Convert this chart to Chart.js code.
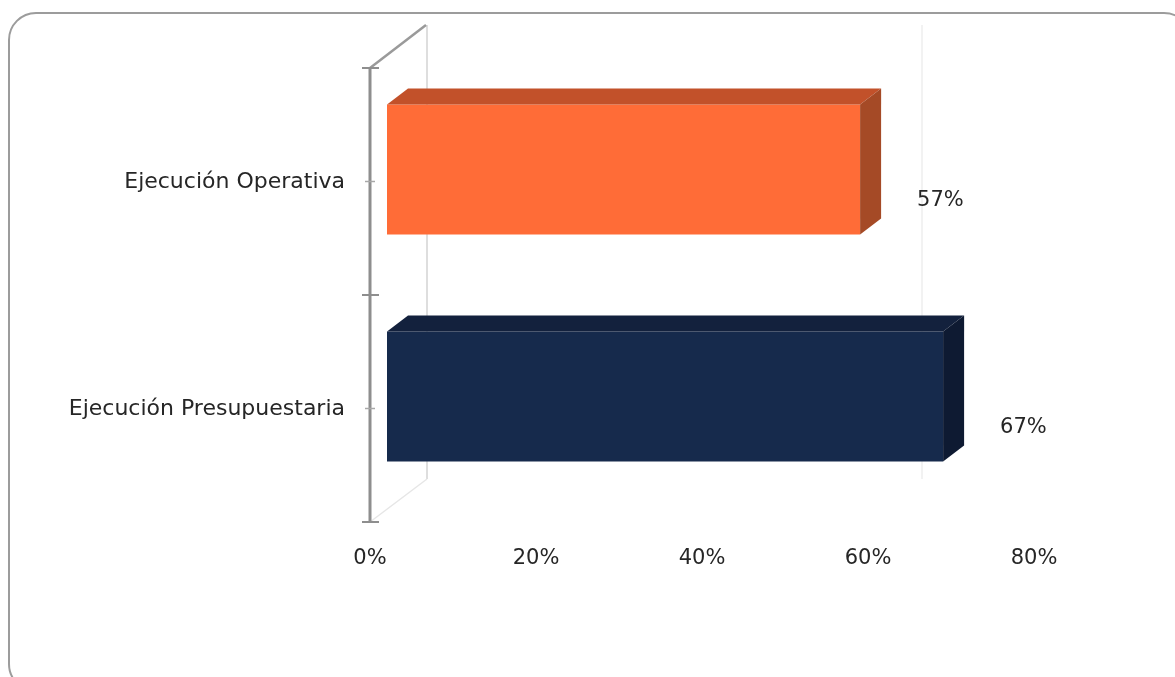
<!DOCTYPE html>
<html>
<head>
<meta charset="utf-8">
<script src="https://cdn.jsdelivr.net/npm/chart.js@4.4.0/dist/chart.umd.min.js"></script>
<style>
html, body { margin: 0; padding: 0; background: #fff; overflow: hidden; }
#wrap { position: relative; width: 1175px; height: 677px; }
#frame { position: absolute; left: 8px; top: 12px; width: 1184px; height: 680px; border: 2px solid #9c9c9c; border-radius: 28px; box-sizing: border-box; }
canvas { position: absolute; left: 0; top: 0; }
</style>
</head>
<body>
<div id="wrap">
  <div id="frame"></div>
  <canvas id="chart" width="1175" height="677"></canvas>
</div>
<script>
const categories = ['Ejecución Operativa', 'Ejecución Presupuestaria'];
const values = [0.57, 0.67];
const frontColors = ['#ff6c37', '#162a4c'];
const topColors = ['#c2512a', '#13213d'];
const sideColors = ['#a54a26', '#0e1a32'];
const gridValues = [0.6];

const FAMILY = '"DejaVu Sans", sans-serif';
const FONT = { family: FAMILY, size: 21 };
const CAT_FONT = { family: FAMILY, size: 22 };
const TEXT = '#262626';
const pct = v => Math.round(v * 100) + '%';

// fake 3D: depth of the bars and of the plot box
const barDx = 21, barDy = -16;
const boxDx = 57, boxDy = -43;
const frontShiftX = -17, frontShiftY = 12;

const walls = {
    id: 'walls',
    beforeDatasetsDraw(chart) {
        const ctx = chart.ctx, a = chart.chartArea;
        const xs = chart.scales.x;
        const L = a.left + frontShiftX, T = a.top + frontShiftY, B = a.bottom + frontShiftY;
        ctx.save();
        // back wall edge
        ctx.strokeStyle = '#dedede';
        ctx.lineWidth = 2;
        ctx.beginPath();
        ctx.moveTo(L + boxDx, T + boxDy);
        ctx.lineTo(L + boxDx, B + boxDy);
        ctx.stroke();
        // floor edge
        ctx.strokeStyle = '#e6e6e6';
        ctx.lineWidth = 1.5;
        ctx.beginPath();
        ctx.moveTo(L, B);
        ctx.lineTo(L + boxDx, B + boxDy);
        ctx.stroke();
        // back gridlines
        ctx.strokeStyle = '#eeeeee';
        ctx.lineWidth = 1.5;
        gridValues.forEach(v => {
            const gx = xs.getPixelForValue(v) + frontShiftX + boxDx - 3;
            ctx.beginPath();
            ctx.moveTo(gx, T + boxDy);
            ctx.lineTo(gx, B + boxDy);
            ctx.stroke();
        });
        ctx.restore();
    },
    afterDatasetsDraw(chart) {
        const ctx = chart.ctx, a = chart.chartArea;
        const ys = chart.scales.y;
        const L = a.left + frontShiftX, T = a.top + frontShiftY, B = a.bottom + frontShiftY;
        const meta = chart.getDatasetMeta(0);
        ctx.save();
        // bar top and side faces
        meta.data.forEach((bar, i) => {
            const p = bar.getProps(['x', 'y', 'base', 'height'], true);
            const top = p.y - p.height / 2, bot = p.y + p.height / 2;
            ctx.fillStyle = topColors[i];
            ctx.beginPath();
            ctx.moveTo(p.base, top);
            ctx.lineTo(p.base + barDx, top + barDy);
            ctx.lineTo(p.x + barDx, top + barDy);
            ctx.lineTo(p.x, top);
            ctx.closePath();
            ctx.fill();
            ctx.fillStyle = sideColors[i];
            ctx.beginPath();
            ctx.moveTo(p.x, top);
            ctx.lineTo(p.x + barDx, top + barDy);
            ctx.lineTo(p.x + barDx, bot + barDy);
            ctx.lineTo(p.x, bot);
            ctx.closePath();
            ctx.fill();
            // value label
            ctx.fillStyle = TEXT;
            ctx.font = `${FONT.size}px ${FONT.family}`;
            ctx.textAlign = 'left';
            ctx.textBaseline = 'middle';
            ctx.fillText(pct(values[i]), p.x + 57, p.y + 31);
        });
        // side wall top edge
        ctx.strokeStyle = '#9a9a9a';
        ctx.lineWidth = 2.5;
        ctx.beginPath();
        ctx.moveTo(L, T);
        ctx.lineTo(L + boxDx - 1, T + boxDy);
        ctx.stroke();
        // front axis
        ctx.strokeStyle = '#8e8e8e';
        ctx.lineWidth = 3;
        ctx.beginPath();
        ctx.moveTo(L, T);
        ctx.lineTo(L, B);
        ctx.stroke();
        ctx.lineWidth = 2;
        [T, (T + B) / 2, B].forEach(y => {
            ctx.beginPath();
            ctx.moveTo(L - 8, y);
            ctx.lineTo(L + 9, y);
            ctx.stroke();
        });
        ctx.strokeStyle = '#a8a8a8';
        ctx.lineWidth = 1.5;
        categories.forEach((c, i) => {
            const y = ys.getPixelForValue(i) + frontShiftY;
            ctx.beginPath();
            ctx.moveTo(L - 5, y);
            ctx.lineTo(L + 5, y);
            ctx.stroke();
        });
        ctx.restore();
    }
};

new Chart(document.getElementById('chart').getContext('2d'), {
    type: 'bar',
    data: {
        labels: categories,
        datasets: [{
            data: values,
            backgroundColor: frontColors,
            borderWidth: 0,
            barPercentage: 0.573,
            categoryPercentage: 1
        }]
    },
    options: {
        indexAxis: 'y',
        responsive: false,
        animation: false,
        devicePixelRatio: 1,
        layout: { padding: { top: 56, bottom: 67, left: 0, right: 124 } },
        plugins: { legend: { display: false }, tooltip: { enabled: false } },
        scales: {
            x: {
                type: 'linear',
                min: 0,
                max: 0.8,
                grid: { display: false, drawTicks: false },
                border: { display: false },
                ticks: {
                    stepSize: 0.2,
                    callback: v => pct(v),
                    labelOffset: frontShiftX,
                    padding: 36,
                    color: TEXT,
                    font: FONT
                },
                afterFit: s => { s.height = 100; }
            },
            y: {
                grid: { display: false, drawTicks: false },
                border: { display: false },
                ticks: {
                    labelOffset: 13,
                    padding: 42,
                    color: TEXT,
                    font: CAT_FONT
                },
                afterFit: s => { s.width = 387; }
            }
        }
    },
    plugins: [walls]
});
</script>
</body>
</html>
